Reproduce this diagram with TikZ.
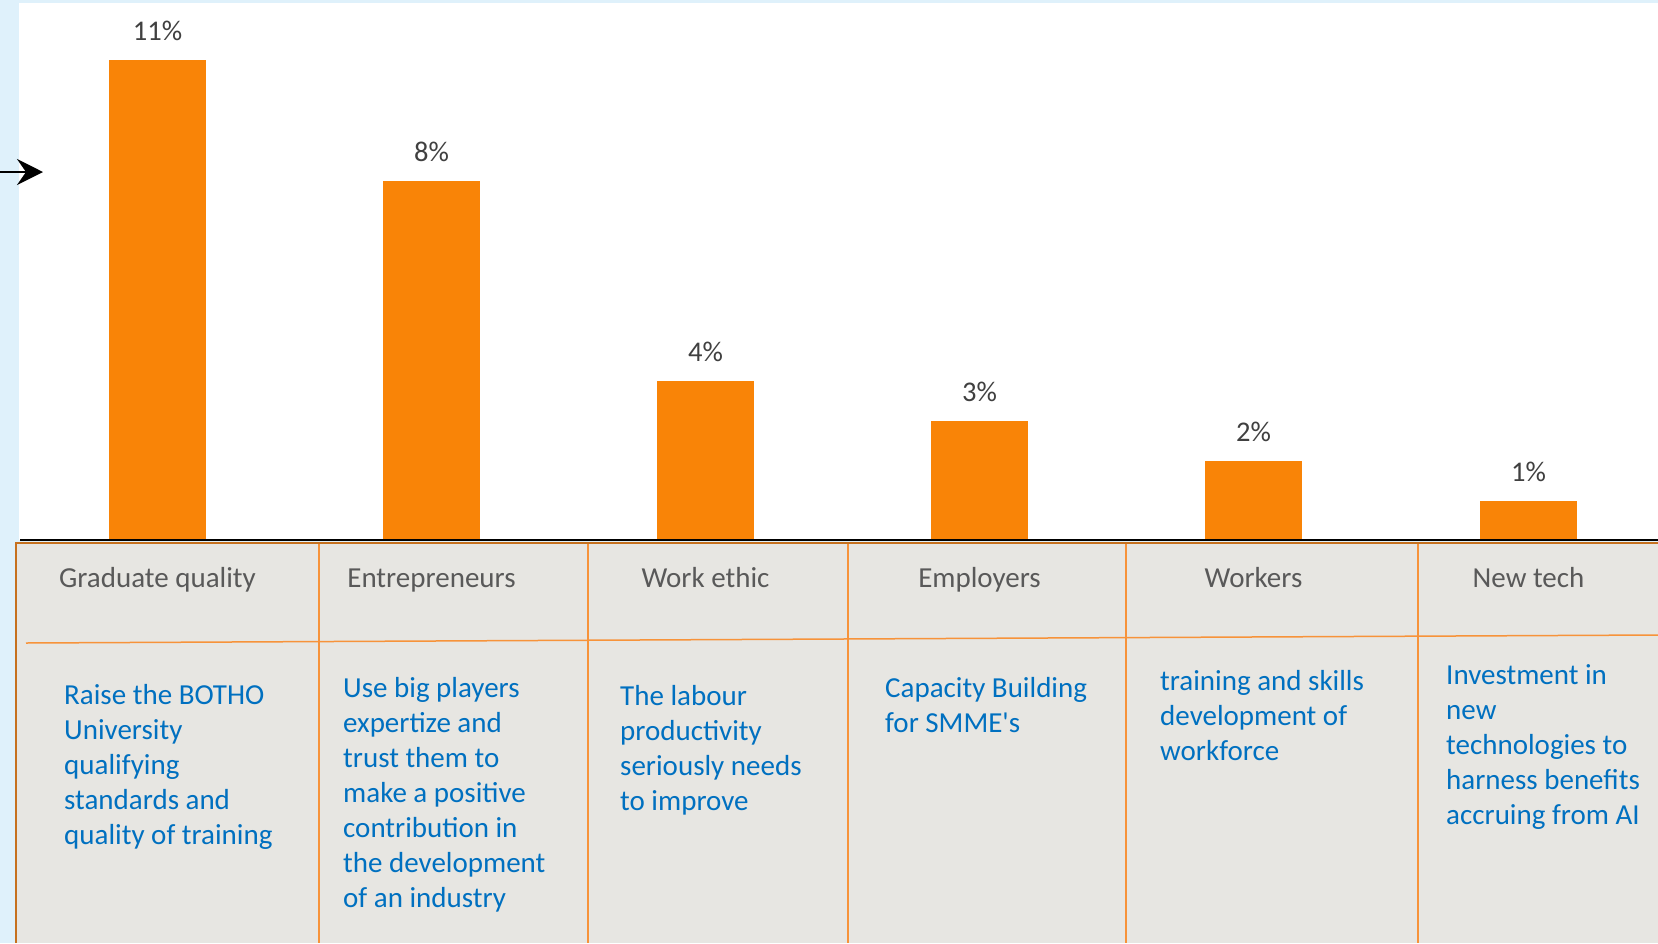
\documentclass[tikz,border=0pt]{standalone}
\usepackage{fontspec}
\setmainfont{Carlito}
\usetikzlibrary{arrows.meta}
\definecolor{bgblue}{HTML}{DFF1FB}
\definecolor{barorange}{HTML}{F98407}
\definecolor{tablefill}{HTML}{E7E6E2}
\definecolor{borderbrown}{HTML}{C6711F}
\definecolor{lineorange}{HTML}{F7933A}
\definecolor{txtblue}{HTML}{0070C0}
\definecolor{hdrgray}{HTML}{595959}
\definecolor{pctgray}{HTML}{404040}
\begin{document}
\begin{tikzpicture}[x=1pt,y=-1pt,
  bar/.style={fill=barorange, draw=none},
  pct/.style={anchor=base, inner sep=0pt, text=pctgray, font=\fontsize{28.5}{34}\selectfont},
  hdr/.style={anchor=base, inner sep=0pt, text=hdrgray, font=\fontsize{29}{35}\selectfont},
  desc/.style={anchor=base west, inner sep=0pt, text=txtblue, font=\fontsize{29}{35}\selectfont},
  divider/.style={draw=lineorange, line width=1.5pt},
]
\useasboundingbox (0,0) rectangle (1658,943);
\fill[bgblue] (0,0) rectangle (1658,943);
\fill[white] (19,3) rectangle (1658,540);
\fill[tablefill] (16,542) rectangle (1658,943);

% bars
\path[bar] (109,60) rectangle (206,540);
\path[bar] (383,181) rectangle (480,540);
\path[bar] (657,381) rectangle (754,540);
\path[bar] (931,421) rectangle (1028,540);
\path[bar] (1205,461) rectangle (1302,540);
\path[bar] (1480,501) rectangle (1577,540);

% percentage labels
\node[pct] (p1) at (157.5,40) {11\%};
\node[pct] (p2) at (431.5,161) {8\%};
\node[pct] (p3) at (705.5,361) {4\%};
\node[pct] (p4) at (979.5,401) {3\%};
\node[pct] (p5) at (1253.5,441) {2\%};
\node[pct] (p6) at (1528.5,481) {1\%};

% axis line
\draw[line width=1.6pt] (20,540) -- (1658,540);

% arrow
\coordinate (as) at (0,172);
\coordinate (ae) at (43,172);
\draw[line width=2pt, -{Stealth[length=26pt,width=26pt,inset=9pt]}] (as) -- (ae);

% table lines
\draw[divider] (26,643) -- (1658,635);
\draw[divider] (319,543) -- (319,943);
\draw[divider] (588,543) -- (588,943);
\draw[divider] (848,543) -- (848,943);
\draw[divider] (1126,543) -- (1126,943);
\draw[divider] (1418,543) -- (1418,943);
\draw[borderbrown, line width=2.5pt] (16,943) -- (16,543) -- (1658,543);

% headers
\node[hdr] (h1) at (157.5,587) {Graduate quality};
\node[hdr] (h2) at (431.5,587) {Entrepreneurs};
\node[hdr] (h3) at (705.5,587) {Work ethic};
\node[hdr] (h4) at (979.5,587) {Employers};
\node[hdr] (h5) at (1253.5,587) {Workers};
\node[hdr] (h6) at (1528.5,587) {New tech};

% descriptions
\node[desc] (d1) at (64,704) {\parbox[t]{250pt}{\raggedright Raise the BOTHO\\University\\qualifying\\standards and\\quality of training}};
\node[desc] (d2) at (343,697) {\parbox[t]{250pt}{\raggedright Use big players\\expertize and\\trust them to\\make a positive\\contribution in\\the development\\of an industry}};
\node[desc] (d3) at (620,705) {\parbox[t]{250pt}{\raggedright The labour\\productivity\\seriously needs\\to improve}};
\node[desc] (d4) at (885,697) {\parbox[t]{250pt}{\raggedright Capacity Building\\for SMME\textquotesingle s}};
\node[desc] (d5) at (1160,690) {\parbox[t]{250pt}{\raggedright training and skills\\development of\\workforce}};
\node[desc] (d6) at (1446,684) {\parbox[t]{250pt}{\raggedright Investment in\\new\\technologies to\\harness benefits\\accruing from AI}};
\end{tikzpicture}
\end{document}
